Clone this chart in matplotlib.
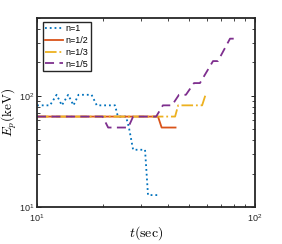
import matplotlib
matplotlib.use("Agg")
import matplotlib.pyplot as plt
from matplotlib.ticker import NullFormatter

plt.rcParams['font.family'] = ['Liberation Sans', 'DejaVu Sans']
plt.rcParams['mathtext.fontset'] = 'cm'

# n = 1 (blue dotted)
t_n1 = [10.0, 11.47, 12.3, 13.0, 13.9, 14.7, 15.5, 17.8, 18.8, 22.8, 23.5, 25.6, 26.4, 27.6, 31.3, 32.3, 35.9]
e_n1 = [82, 82, 102, 82, 102, 82, 102, 102, 82, 82, 65, 65, 52, 32.7, 32.7, 12.8, 12.8]

# n = 1/2 (orange solid)
t_n2 = [10.0, 35.9, 37.3, 43.2]
e_n2 = [65, 65, 51.8, 51.8]

# n = 1/3 (yellow dash-dot)
t_n3 = [10.0, 43.0, 44.4, 57.2, 59.3]
e_n3 = [65, 65, 82, 82, 102]

# n = 1/5 (purple dashed)
t_n5 = [10.0, 20.0, 21.2, 26.2, 27.6, 35.2, 37.8, 41.6, 44.8, 48.2, 52.5, 55.9, 64.2, 67.6, 76.8, 81.8]
e_n5 = [65, 65, 51.8, 51.8, 65, 65, 82, 82, 102, 102, 130, 130, 205, 205, 326, 326]

labels = ['n=1', 'n=1/2', 'n=1/3', 'n=1/5']

fig = plt.figure(figsize=(2.82, 2.44), dpi=100)
ax = fig.add_axes([37/282, 37/244, 218/282, 189/244])

lw = 1.3
ax.plot(t_n1, e_n1, color='#0072BD', linestyle=':', lw=lw, label=labels[0])
ax.plot(t_n2, e_n2, color='#D95319', linestyle='-', lw=lw, label=labels[1])
ax.plot(t_n3, e_n3, color='#EDB120', linestyle='-.', lw=lw, label=labels[2])
ax.plot(t_n5, e_n5, color='#7E2F8E', linestyle=(0, (5, 3)), lw=lw, label=labels[3])

ax.set_xscale('log')
ax.set_yscale('log')
ax.set_xlim(10, 100)
ax.set_ylim(10, 500)
ax.xaxis.set_minor_formatter(NullFormatter())
ax.yaxis.set_minor_formatter(NullFormatter())

ax.tick_params(which='both', direction='in', top=True, right=True, labelsize=6.5, colors='#262626', pad=2)
ax.tick_params(axis='x', which='both', pad=4)
ax.tick_params(which='major', length=3, width=0.7)
ax.tick_params(which='minor', length=2, width=0.6)
for s in ax.spines.values():
    s.set_linewidth(1.3)
    s.set_color('#262626')

ax.set_xlabel(r'$t(\mathrm{sec})$', fontsize=10, labelpad=0)
ax.set_ylabel(r'$E_p(\mathrm{keV})$', fontsize=9.5, labelpad=0)

leg = ax.legend(loc='upper left', bbox_to_anchor=(0.026, 0.98), borderaxespad=0,
                fontsize=6.5, handlelength=2.0, handletextpad=0.2, labelspacing=0.3,
                borderpad=0.3, fancybox=False, framealpha=1)
leg.get_frame().set_edgecolor('#262626')
leg.get_frame().set_linewidth(1.0)

fig.savefig('out.png', dpi=100)
